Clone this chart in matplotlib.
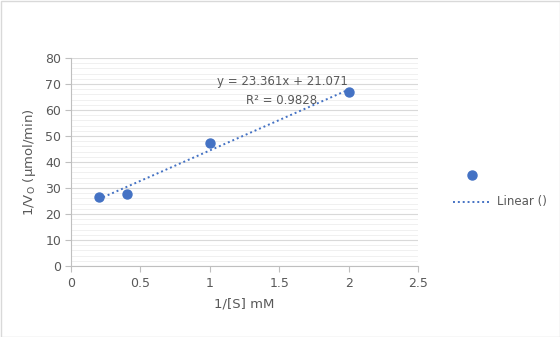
import numpy as np
import matplotlib
matplotlib.use("Agg")
import matplotlib.pyplot as plt
from matplotlib.lines import Line2D
from matplotlib.patches import Rectangle

x_vals = [0.2, 0.4, 1.0, 2.0]
y_vals = [26.4, 27.8, 47.4, 66.8]
x_ticks = [0, 0.5, 1, 1.5, 2, 2.5]
x_tick_labels = ["0", "0.5", "1", "1.5", "2", "2.5"]
y_ticks = [0, 10, 20, 30, 40, 50, 60, 70, 80]
equation = "y = 23.361x + 21.071"
r2_text = "R² = 0.9828"

blue = "#4472C4"
gray = "#595959"

fig = plt.figure(figsize=(5.6, 3.37), dpi=100)
fig.patches.append(Rectangle((0.5/560, 0.5/337), 1 - 1/560, 1 - 1/337, transform=fig.transFigure,
                             fill=False, edgecolor="#d9d9d9", linewidth=1))
ax = fig.add_axes([71/560, (337-266)/337, (418-71)/560, (266-58)/337])

ax.set_xlim(0, 2.5)
ax.set_ylim(0, 80)
ax.set_yticks(y_ticks)
ax.set_yticks(np.arange(0, 81, 2), minor=True)
ax.set_xticks(x_ticks)
ax.set_xticklabels(x_tick_labels)
ax.grid(True, axis="y", which="major", color="#d9d9d9", linewidth=0.8)
ax.grid(True, axis="y", which="minor", color="#f0f0f0", linewidth=0.7)
ax.set_axisbelow(True)
for s in ["top", "right"]:
    ax.spines[s].set_visible(False)
for s in ["left", "bottom"]:
    ax.spines[s].set_color("#bfbfbf")
    ax.spines[s].set_linewidth(0.8)
ax.tick_params(axis="y", which="major", length=4, color="#bfbfbf", labelcolor=gray, labelsize=9, pad=3)
ax.tick_params(axis="y", which="minor", length=0)
ax.tick_params(axis="x", which="major", length=4, color="#bfbfbf", labelcolor=gray, labelsize=9, pad=4, direction="out")

ax.set_xlabel("1/[S] mM", color=gray, fontsize=9.5, labelpad=5)
ax.set_ylabel("1/V$_\\mathregular{O}$ (µmol/min)", color=gray, fontsize=9.5, labelpad=5)

xs = np.array(x_vals)
ys = np.array(y_vals)
m, b = np.polyfit(xs, ys, 1)
xl = np.array([xs.min(), xs.max()])
ax.plot(xl, m * xl + b, linestyle=(0, (1, 1.5)), color=blue, linewidth=1.4, zorder=2)
ax.scatter(xs, ys, s=42, color=blue, zorder=3, clip_on=False)

ax.text(282/560, (337-82)/337, equation, transform=fig.transFigure, ha="center", va="center", color=gray, fontsize=8.5)
ax.text(282/560, (337-100)/337, r2_text, transform=fig.transFigure, ha="center", va="center", color=gray, fontsize=8.5)

# legend-like entries
fig.add_artist(Line2D([472/560], [(337-175)/337], marker="o", markersize=6.5, color=blue, linestyle="none",
                      transform=fig.transFigure))
fig.add_artist(Line2D([453/560, 491/560], [(337-202)/337] * 2, linestyle=(0, (1, 1.5)), color=blue, linewidth=1.4,
                      transform=fig.transFigure))
fig.text(497/560, (337-202)/337, "Linear ()", ha="left", va="center", color=gray, fontsize=8.5)

fig.savefig("out.png", dpi=100)
